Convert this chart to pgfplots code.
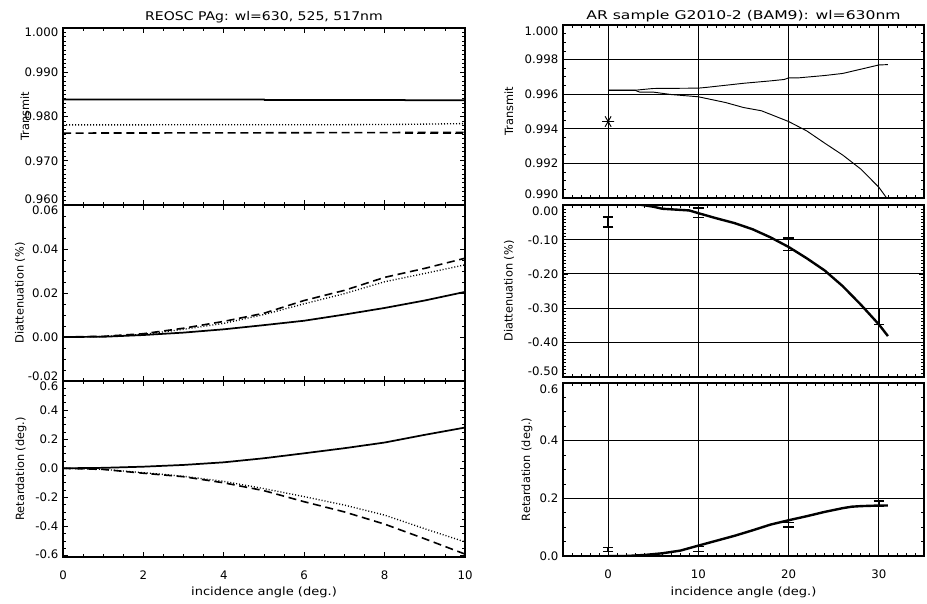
\documentclass[border=0pt]{standalone}
\usepackage{fontspec}
\setmainfont{DejaVu Sans}
\newfontfamily\titleA[FakeStretch=1.17]{DejaVu Sans}
\newfontfamily\titleB[FakeStretch=1.3]{DejaVu Sans}
\newfontfamily\xlab[FakeStretch=1.15]{DejaVu Sans}
\usepackage{pgfplots}
\pgfplotsset{compat=1.18}
\newcommand{\up}[2]{\raisebox{#1}[\height][\depth]{#2}}
\pgfplotsset{
  idl/.style={
    scale only axis,
    scaled ticks=false,
    every axis title shift=0pt,
    axis line style={line width=0.9pt},
    every tick/.style={black, line width=0.6pt},
    major tick length=3.5pt,
    minor tick length=2pt,
    tick align=inside,
    xtick pos=both, ytick pos=both,
    ticklabel style={font=\fontsize{8.8}{10}\selectfont},
    ylabel style={font=\fontsize{8.5}{10}\selectfont},
    xlabel style={font=\xlab\fontsize{8.5}{10}\selectfont},
    xticklabel style={yshift=-7pt},
    anchor=south west,
  },
  leftcol/.style={idl, width=301.5pt, xmin=0, xmax=10,
    xtick={0,2,4,6,8,10},
    minor xtick={0.5,1,1.5,2.5,3,3.5,4.5,5,5.5,6.5,7,7.5,8.5,9,9.5}},
  rightcol/.style={idl, width=270.75pt, xmin=-5, xmax=35,
    xtick={0,10,20,30},
    minor xtick={-4,-3,-2,-1,1,2,3,4,5,6,7,8,9,11,12,13,14,15,16,17,18,19,21,22,23,24,25,26,27,28,29,31,32,33,34},
    grid=major, major grid style={black, line width=0.8pt}},
  solidL/.style={black, line width=1.3pt},
  dashL/.style={black, line width=1.2pt, dash pattern=on 6pt off 3.5pt},
  dotL/.style={black, line width=1pt, dash pattern=on 0.75pt off 1.5pt},
  ebar/.style={black, only marks, mark=*, mark size=0pt,
    error bars/.cd, y dir=both, y explicit,
    error bar style={line width=1.1pt, solid},
    error mark=-,
    error mark options={rotate=90, line width=1.1pt, mark size=4pt, solid}},
}
\begin{document}
\begin{tikzpicture}
\useasboundingbox (0,0) rectangle (695.25pt,452.25pt);
% ---------------- left top
\begin{axis}[leftcol, at={(47.25pt,298.5pt)}, height=132.75pt,
  ymin=0.96, ymax=1.0,
  ytick={0.96,0.97,0.98,0.99,1.0},
  yticklabels={\up{4pt}{0.960},0.970,0.980,0.990,\up{-3pt}{1.000}},
  minor ytick={0.961,0.962,0.963,0.964,0.965,0.966,0.967,0.968,0.969,
    0.971,0.972,0.973,0.974,0.975,0.976,0.977,0.978,0.979,
    0.981,0.982,0.983,0.984,0.985,0.986,0.987,0.988,0.989,
    0.991,0.992,0.993,0.994,0.995,0.996,0.997,0.998,0.999},
  xticklabels={},
  ylabel={Transmit}, ylabel style={at={(axis description cs:-0.0945,0.5)}, anchor=center},
  title={REOSC PAg: wl=630, 525, 517nm},
  title style={font=\titleA\fontsize{9}{10}\selectfont, at={(axis description cs:0.5,1.063)}, anchor=center},
]
\addplot[solidL] coordinates {(0,0.98385) (5,0.98385) (5.01,0.98375) (8.5,0.98375) (8.51,0.98365) (10,0.98365)};
\addplot[dotL] coordinates {(0,0.97810) (7,0.97815) (8.5,0.97822) (10,0.97840)};
\addplot[dashL] coordinates {(0,0.97625) (4,0.97630) (10,0.97640)};
\addplot[dashL] coordinates {(8.5,0.97620) (10,0.97620)};
\end{axis}
% ---------------- left middle
\begin{axis}[leftcol, at={(47.25pt,166.5pt)}, height=132pt,
  ymin=-0.02, ymax=0.06,
  ytick={-0.02,0,0.02,0.04,0.06},
  yticklabels={\up{3.5pt}{-0.02},0.00,0.02,0.04,\up{-4pt}{0.06}},
  minor ytick={-0.015,-0.01,-0.005,0.005,0.01,0.015,0.025,0.03,0.035,0.045,0.05,0.055},
  xticklabels={},
  ylabel={Diattenuation (\%)}, ylabel style={at={(axis description cs:-0.107,0.5)}, anchor=center},
]
\addplot[solidL] coordinates {(0,0) (1,0.0001) (2,0.0009) (3,0.0020) (4,0.0035) (5,0.0054) (6,0.0074) (7,0.0102) (8,0.0132) (9,0.0166) (10,0.0205)};
\addplot[dotL] coordinates {(0,0) (1,0.0002) (2,0.0012) (3,0.0035) (4,0.0062) (5,0.0102) (6,0.0151) (7,0.0197) (8,0.0251) (9,0.0289) (10,0.0328)};
\addplot[dashL] coordinates {(0,0) (1,0.0003) (2,0.0015) (3,0.0040) (4,0.0071) (5,0.0108) (6,0.0166) (7,0.0212) (8,0.0271) (9,0.0312) (10,0.0358)};
\end{axis}
% ---------------- left bottom
\begin{axis}[leftcol, at={(47.25pt,34.5pt)}, height=132pt,
  ymin=-0.61, ymax=0.6,
  ytick={-0.6,-0.4,-0.2,0,0.2,0.4,0.6},
  yticklabels={\up{1pt}{-0.6},-0.4,-0.2,0.0,0.2,0.4,\up{-4pt}{0.6}},
  minor ytick={-0.55,-0.5,-0.45,-0.35,-0.3,-0.25,-0.15,-0.1,-0.05,0.05,0.1,0.15,0.25,0.3,0.35,0.45,0.5,0.55},
  xticklabels={0,2,4,6,8,10},
  ylabel={Retardation (deg.)}, ylabel style={at={(axis description cs:-0.1045,0.5)}, anchor=center},
  xlabel={incidence angle (deg.)}, xlabel style={at={(axis description cs:0.5,-0.199)}, anchor=center},
]
\addplot[solidL] coordinates {(0,0) (1,0.003) (2,0.011) (3,0.023) (4,0.041) (5,0.069) (6,0.103) (7,0.138) (8,0.177) (9,0.23) (10,0.28)};
\addplot[dotL] coordinates {(0,0) (1,-0.007) (2,-0.030) (3,-0.055) (4,-0.090) (5,-0.140) (6,-0.195) (7,-0.253) (8,-0.322) (9,-0.416) (10,-0.506)};
\addplot[dashL] coordinates {(0,0) (1,-0.008) (2,-0.034) (3,-0.058) (4,-0.100) (5,-0.154) (6,-0.230) (7,-0.300) (8,-0.384) (9,-0.485) (10,-0.590)};
\end{axis}
% ---------------- right top
\begin{axis}[rightcol, at={(422.25pt,303.75pt)}, height=129.75pt,
  ymin=0.99, ymax=1.0,
  ytick={0.99,0.992,0.994,0.996,0.998,1.0},
  yticklabels={\up{2.5pt}{0.990},0.992,0.994,0.996,0.998,\up{-5pt}{1.000}},
  minor ytick={0.9905,0.991,0.9915,0.9925,0.993,0.9935,0.9945,0.995,0.9955,0.9965,0.997,0.9975,0.9985,0.999,0.9995},
  xticklabels={},
  ylabel={Transmit}, ylabel style={at={(axis description cs:-0.1496,0.5)}, anchor=center},
  title={AR sample G2010-2 (BAM9): wl=630nm},
  title style={font=\titleB\fontsize{9}{10}\selectfont, at={(axis description cs:0.5,1.053)}, anchor=center},
]
\addplot[black, line width=0.7pt] coordinates {(0,0.99623) (3,0.99623) (5,0.99633) (10,0.99635) (11,0.99640) (15,0.99663) (18,0.99677) (19.5,0.99685) (20,0.99694) (21,0.99694) (24,0.99708) (26,0.99720) (30,0.99769) (31,0.99771)};
\addplot[black, line width=0.7pt] coordinates {(0,0.99622) (3,0.99622) (3.5,0.99612) (5,0.99612) (7,0.99598) (10,0.99585) (13,0.99552) (15,0.99523) (17,0.99504) (20,0.99442) (22,0.99388) (24,0.99317) (26,0.99248) (28,0.99167) (30,0.99062) (31,0.9899)};
\addplot[black, only marks, mark=asterisk, mark size=4.5pt, mark options={rotate=90, line width=0.7pt}] coordinates {(0,0.99442)};
\addplot[black, only marks, mark=*, mark size=1pt] coordinates {(0,0.99442)};
\end{axis}
% ---------------- right middle
\begin{axis}[rightcol, at={(422.25pt,169.5pt)}, height=129pt,
  ymin=-0.502, ymax=0.002,
  ytick={-0.5,-0.4,-0.3,-0.2,-0.1,0},
  yticklabels={\up{3.5pt}{-0.50},-0.40,-0.30,-0.20,-0.10,\up{-4pt}{0.00}},
  minor ytick={-0.49,-0.48,-0.47,-0.46,-0.45,-0.44,-0.43,-0.42,-0.41,
    -0.39,-0.38,-0.37,-0.36,-0.35,-0.34,-0.33,-0.32,-0.31,
    -0.29,-0.28,-0.27,-0.26,-0.25,-0.24,-0.23,-0.22,-0.21,
    -0.19,-0.18,-0.17,-0.16,-0.15,-0.14,-0.13,-0.12,-0.11,
    -0.09,-0.08,-0.07,-0.06,-0.05,-0.04,-0.03,-0.02,-0.01},
  xticklabels={},
  ylabel={Diattenuation (\%)}, ylabel style={at={(axis description cs:-0.1496,0.5)}, anchor=center},
]
\addplot[black, line width=1.8pt] coordinates {(3.3,0.004) (5,-0.003) (6,-0.009) (9,-0.014) (10,-0.022) (12,-0.037) (14,-0.051) (16,-0.069) (18,-0.093) (20,-0.121) (22,-0.154) (24,-0.190) (26,-0.236) (28,-0.290) (30,-0.348) (31,-0.382)};
\addplot[ebar]
  coordinates {(0,-0.0484) +- (0,0.0146) (10,-0.021) +- (0,0.0137) (20,-0.113) +- (0,0.018) (30,-0.3248) +- (0,0.0234)};
\end{axis}
% ---------------- right bottom
\begin{axis}[rightcol, at={(422.25pt,35.25pt)}, height=129.75pt,
  ymin=0, ymax=0.6,
  ytick={0,0.2,0.4,0.6},
  yticklabels={0.0,0.2,0.4,\up{-4.5pt}{0.6}},
  minor ytick={0.05,0.1,0.15,0.25,0.3,0.35,0.45,0.5,0.55},
  xticklabels={0,10,20,30},
  ylabel={Retardation (deg.)}, ylabel style={at={(axis description cs:-0.0997,0.5)}, anchor=center},
  xlabel={incidence angle (deg.)}, xlabel style={at={(axis description cs:0.5,-0.208)}, anchor=center},
]
\addplot[black, line width=1.8pt] coordinates {(0,0) (2,0) (4,0.0035) (6,0.0094) (8,0.0187) (10,0.036) (12,0.053) (14,0.070) (16,0.089) (18,0.109) (20,0.124) (22,0.138) (24,0.153) (26,0.166) (27,0.171) (28,0.173) (30,0.175) (31,0.175)};
\addplot[ebar]
  coordinates {(0,0.0222) +- (0,0.007) (10,0.024) +- (0,0.0088) (20,0.1088) +- (0,0.0082) (30,0.1807) +- (0,0.0099)};
\end{axis}
\end{tikzpicture}
\end{document}
